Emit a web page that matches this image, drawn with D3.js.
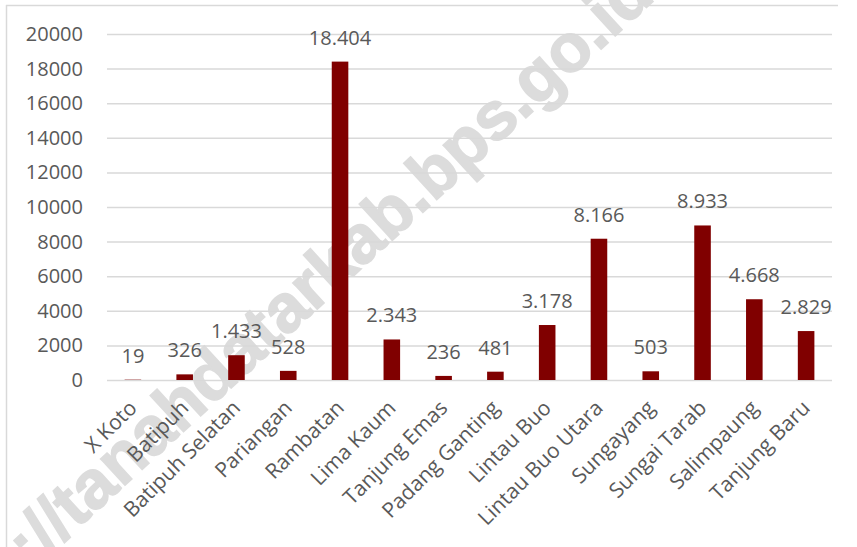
<!DOCTYPE html>
<html><head><meta charset="utf-8">
<script src="https://cdn.jsdelivr.net/npm/d3@7"></script>
<style>
html,body{margin:0;padding:0;background:#fff;}
svg{display:block;}
</style></head>
<body>
<svg id="chart" width="857" height="547"></svg>
<script>
const categories = ["X Koto","Batipuh","Batipuh Selatan","Pariangan","Rambatan","Lima Kaum","Tanjung Emas","Padang Ganting","Lintau Buo","Lintau Buo Utara","Sungayang","Sungai Tarab","Salimpaung","Tanjung Baru"];
const values = [19,326,1433,528,18404,2343,236,481,3178,8166,503,8933,4668,2829];
const yTicks = [0,2000,4000,6000,8000,10000,12000,14000,16000,18000,20000];
const watermarkText = ["https:", "//tanahdatarkab.bps.go.id"];

(function(){
const svg = d3.select("#chart");
const mL = 107, mR = 832, mT = 34, mB = 380;
const font = "'Open Sans', sans-serif";
const textColor = "#595959";

// frame
svg.append("line").attr("x1",6).attr("x2",838).attr("y1",5.5).attr("y2",5.5).attr("stroke","#d9d9d9").attr("stroke-width",1.5);
svg.append("line").attr("x1",6.5).attr("x2",6.5).attr("y1",5).attr("y2",547).attr("stroke","#d9d9d9").attr("stroke-width",1.5);

// watermark
const wm = svg.append("g").attr("transform","translate(49,555) rotate(-42.5)")
  .attr("font-family","'Liberation Sans', Arial, sans-serif").attr("font-weight","bold")
  .attr("font-size",68).attr("fill","#dcdcdc").attr("stroke","#dcdcdc").attr("stroke-width",1.5);
wm.append("text").attr("text-anchor","end").text(watermarkText[0]);
wm.append("text").attr("text-anchor","start").text(watermarkText[1]);

const x = d3.scaleBand().domain(categories).range([mL,mR]).padding(0);
const y = d3.scaleLinear().domain([0,20000]).range([mB,mT]);
const barW = x.bandwidth()*0.32;

// gridlines
const yAxis = d3.axisLeft(y).tickValues(yTicks).tickSize(-(mR-mL)).tickPadding(24).tickFormat(d3.format("d"));
const ga = svg.append("g").attr("transform",`translate(${mL},0)`).call(yAxis);
ga.select(".domain").remove();
ga.selectAll(".tick line").attr("stroke","#d9d9d9").attr("stroke-width",1.5);
ga.selectAll(".tick text").attr("font-family",font).attr("font-size",20).attr("fill",textColor);

// bars
svg.append("g").selectAll("rect").data(values).join("rect")
  .attr("x",(d,i)=>x(categories[i])+x.bandwidth()/2-barW/2)
  .attr("width",barW)
  .attr("y",d=>y(d))
  .attr("height",d=>y(0)-y(d))
  .attr("fill","#800000");

// data labels
const loc = d3.formatLocale({decimal:",",thousands:".",grouping:[3],currency:["",""]});
const fmt = loc.format(",d");
svg.append("g").selectAll("text").data(values).join("text")
  .attr("x",(d,i)=>x(categories[i])+x.bandwidth()/2)
  .attr("y",d=>y(d)-17)
  .attr("text-anchor","middle")
  .attr("font-family",font).attr("font-size",20).attr("fill",textColor)
  .text(d=>fmt(d));

// x labels
const xAxis = d3.axisBottom(x).tickSize(0).tickPadding(0);
const gx = svg.append("g").attr("transform",`translate(0,${mB})`).call(xAxis);
gx.select(".domain").remove();
gx.selectAll(".tick text")
  .attr("font-family",font).attr("font-size",21).attr("fill",textColor)
  .attr("text-anchor","end")
  .attr("transform","translate(0,24) rotate(-45)")
  .attr("y",0).attr("x",0).attr("dy","0.35em");
})();
</script>
</body></html>
